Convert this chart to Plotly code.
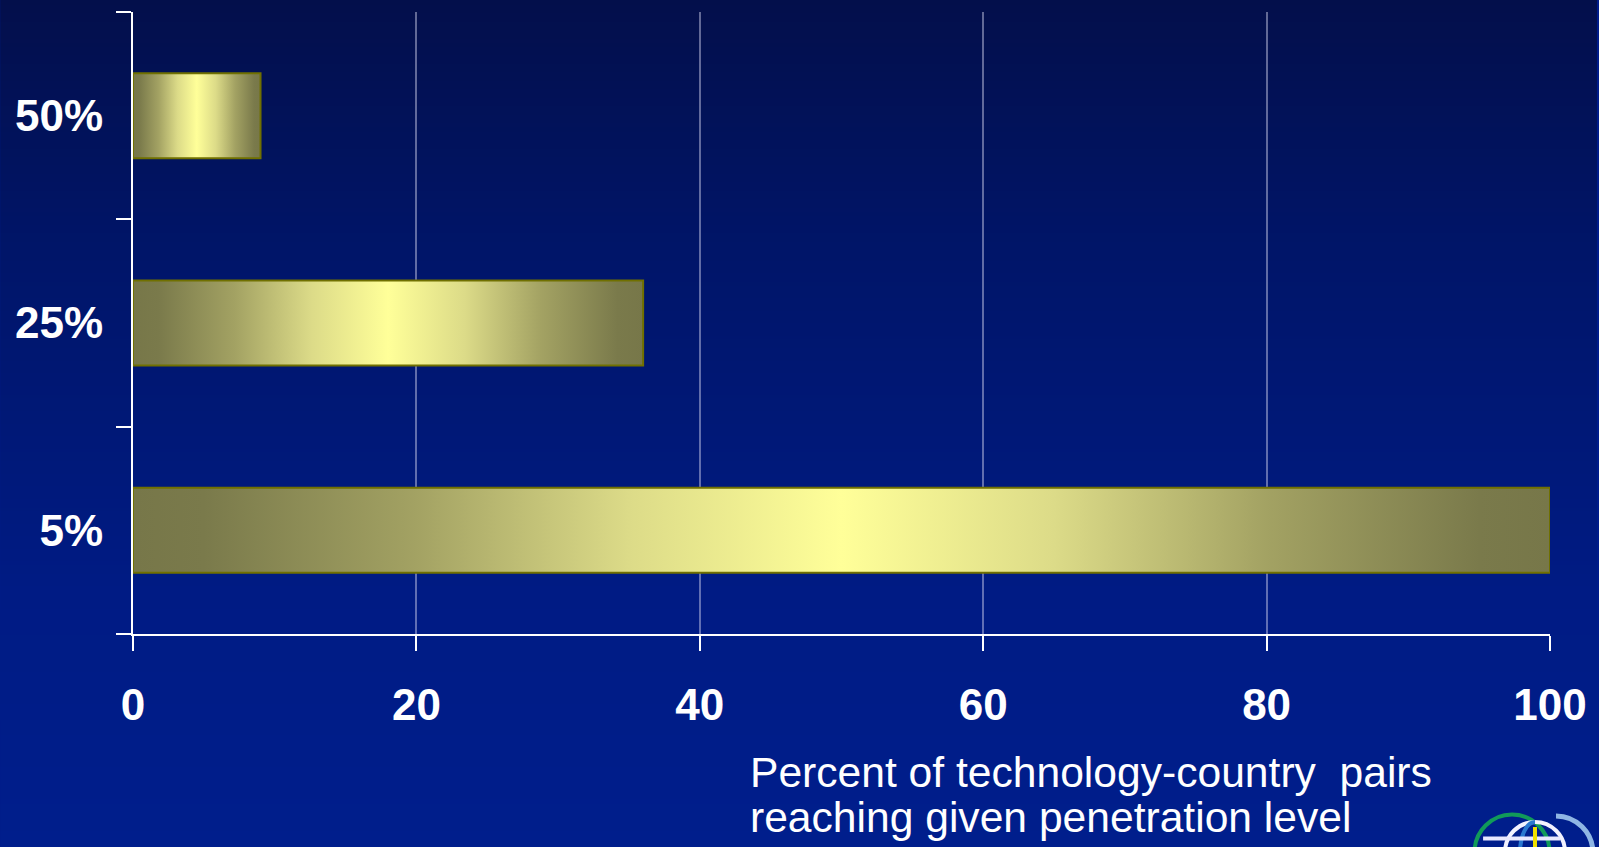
import base64
import struct
import zlib

import plotly.graph_objects as go

# Penetration levels (bottom to top) and share of technology-country pairs reaching them
levels = ["5%", "25%", "50%"]
share_reaching = [100, 36, 9]
x_ticks = [0, 20, 40, 60, 80, 100]
title_lines = [
    "Percent of technology-country  pairs",
    "reaching given penetration level",
]

W, H = 1599, 847
M_L, M_R, M_T, M_B = 133, 47, 12, 213
PLOT_W = W - M_L - M_R
PLOT_H = H - M_T - M_B
BAR_HALF = 0.205

FONT = "Arial, Liberation Sans, Helvetica, sans-serif"


def px_x(px):
    return (px - M_L) / PLOT_W


def px_y(py):
    return (H - M_B - py) / PLOT_H


def gradient_png(height, stops):
    """Vertical 1-pixel-wide gradient PNG as a data URI."""
    rows = []
    for i in range(height):
        t = i / (height - 1)
        for (t0, c0), (t1, c1) in zip(stops, stops[1:]):
            if t0 <= t <= t1:
                f = (t - t0) / (t1 - t0)
                rgb = [round(a + (b - a) * f) for a, b in zip(c0, c1)]
                break
        rows.append(b"\x00" + bytes(rgb))
    raw = b"".join(rows)

    def chunk(tag, data):
        return (struct.pack(">I", len(data)) + tag + data
                + struct.pack(">I", zlib.crc32(tag + data) & 0xFFFFFFFF))

    png = (b"\x89PNG\r\n\x1a\n"
           + chunk(b"IHDR", struct.pack(">IIBBBBB", 1, height, 8, 2, 0, 0, 0))
           + chunk(b"IDAT", zlib.compress(raw, 9))
           + chunk(b"IEND", b""))
    return "data:image/png;base64," + base64.b64encode(png).decode()


bg_uri = gradient_png(H, [
    (0.0, (3, 15, 75)),
    (0.3, (0, 21, 105)),
    (0.7, (0, 27, 132)),
    (1.0, (0, 30, 140)),
])

bar_scale = [
    [0.0, "#777749"], [0.05, "#7a7a4b"], [0.2, "#a3a263"], [0.35, "#dcdb88"],
    [0.5, "#ffff99"], [0.65, "#dcdb88"], [0.8, "#a3a263"], [0.95, "#7a7a4b"],
    [1.0, "#777749"],
]

fig = go.Figure()

for i, (lvl, val) in enumerate(zip(levels, share_reaching)):
    lo, hi = i - BAR_HALF, i + BAR_HALF
    fig.add_trace(go.Scatter(
        x=[0, val, val, 0, 0],
        y=[lo, lo, hi, hi, lo],
        mode="lines",
        fill="toself",
        fillgradient=dict(type="horizontal", colorscale=bar_scale),
        line=dict(color="#707000", width=2),
        name=lvl,
        hoverinfo="skip",
        showlegend=False,
    ))

# Axis title, two lines placed as separate annotations for tight line spacing
annotations = []
for j, line in enumerate(title_lines):
    annotations.append(dict(
        text=line, xref="paper", yref="paper",
        x=px_x(749), y=px_y(772 + 45 * j),
        xanchor="left", yanchor="middle", showarrow=False,
        font=dict(family=FONT, size=42.6, color="white"),
    ))


# Emblem in the lower right corner
def circle(cx, cy, rx, ry, color, width):
    return dict(type="circle", xref="paper", yref="paper",
                x0=px_x(cx - rx), x1=px_x(cx + rx),
                y0=px_y(cy + ry), y1=px_y(cy - ry),
                line=dict(color=color, width=width), layer="above")


def path(points_cmds, color, width):
    return dict(type="path", xref="paper", yref="paper", path=points_cmds,
                line=dict(color=color, width=width), layer="above")


def pt(px, py):
    return f"{px_x(px):.5f},{px_y(py):.5f}"


k = 0.5523
shapes = [
    circle(1514, 852, 37.5, 37.5, "#119a5a", 4),
    circle(1537, 852, 30, 30, "#f2f2ff", 4),
    path(f"M{pt(1537, 822)} C{pt(1537 - 15 * k, 822)} {pt(1522, 852 - 30 * k)} {pt(1522, 852)}",
         "#2a78d0", 4),
    path(f"M{pt(1485, 838.5)} L{pt(1562, 838.5)}", "#e8e8ff", 4),
    path(f"M{pt(1537, 827)} L{pt(1537, 847)}", "#f0e000", 4),
    path(f"M{pt(1558, 816)} C{pt(1558 + 37 * k, 816)} {pt(1595, 853 - 37 * k)} {pt(1595, 853)}",
         "#8fb6e4", 5),
]

fig.update_layout(
    width=W, height=H, autosize=False,
    margin=dict(l=M_L, r=M_R, t=M_T, b=M_B, pad=0),
    paper_bgcolor="#001c8a",
    plot_bgcolor="rgba(0,0,0,0)",
    images=[dict(
        source=bg_uri, xref="paper", yref="paper",
        x=px_x(0), y=px_y(0), sizex=W / PLOT_W, sizey=H / PLOT_H,
        xanchor="left", yanchor="top", sizing="stretch", layer="below",
    )],
    annotations=annotations,
    shapes=shapes,
    showlegend=False,
)

fig.update_xaxes(
    range=[0, 100],
    tickvals=x_ticks,
    ticktext=[str(v) for v in x_ticks],
    showgrid=True, gridcolor="rgba(215,215,240,0.45)", gridwidth=1.5,
    zeroline=False,
    showline=True, linecolor="white", linewidth=2,
    ticks="outside", ticklen=15, tickwidth=2, tickcolor="white",
    ticklabelstandoff=16,
    tickfont=dict(family=FONT, size=44, color="white", weight="bold"),
)

fig.update_yaxes(
    range=[-0.5, 2.5],
    tickvals=list(range(len(levels))),
    ticktext=levels,
    ticks="",
    showgrid=False, zeroline=False,
    showline=True, linecolor="white", linewidth=2,
    ticklabelstandoff=19,
    tickfont=dict(family=FONT, size=44, color="white", weight="bold"),
    minor=dict(
        tickvals=[i - 0.5 for i in range(len(levels) + 1)],
        ticks="outside", ticklen=15, tickwidth=2, tickcolor="white",
        showgrid=False,
    ),
)

fig.write_html("out.html")
